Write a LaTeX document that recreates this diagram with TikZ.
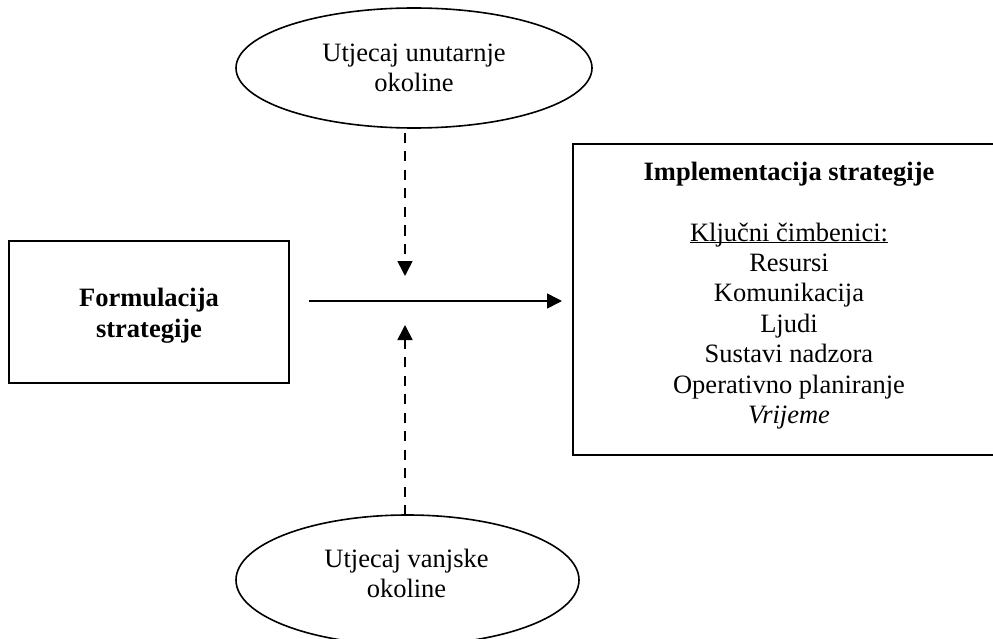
\documentclass[tikz,border=0pt]{standalone}
\usepackage{fontspec}
\setmainfont{Liberation Serif}
\usetikzlibrary{arrows.meta,shapes.geometric}
\begin{document}
\fontsize{26.5}{30.4}\selectfont
\begin{tikzpicture}[x=1pt,y=-1pt,line width=1.6pt,
  every node/.style={inner sep=0pt,outer sep=0pt},
  oval/.style={draw,ellipse,line width=1.6pt},
  box/.style={draw,rectangle,line width=1.6pt},
  txt/.style={align=center},
  flow/.style={-{Triangle[length=15pt,width=15pt]}},
  infl/.style={flow,dash pattern=on 10pt off 8.5pt}]
\useasboundingbox (0,0) rectangle (993,639);
\clip (0,0) rectangle (993,639);
\node[oval,minimum width=356pt,minimum height=120pt,align=center] (T) at (414,68) {Utjecaj unutarnje\\okoline};
\node[oval,minimum width=343pt,minimum height=130pt] (B) at (407.5,580) {};
\node[txt] (Btxt) at (406.5,573.5) {Utjecaj vanjske\\okoline};
\node[box,minimum width=280pt,minimum height=142pt] (L) at (149,312) {};
\node[txt,font=\bfseries] (Ltxt) at (149,315.6) {Formulacija\\strategije};
\node[box,minimum width=432pt,minimum height=311pt] (R) at (789,299.5) {};
\node[txt] (Rtxt) at (789,295.5) {\textbf{Implementacija strategije}\\[30.4pt]
  \underline{\smash{Ključni čimbenici:}}\\Resursi\\Komunikacija\\Ljudi\\Sustavi nadzora\\Operativno planiranje\\\textit{Vrijeme}};
\coordinate (cross) at (405,301);
\coordinate (dtip) at (405,276);
\coordinate (utip) at (405,325);
\draw[flow,shorten <=20pt,shorten >=11pt] (L.east |- cross) -- (R.west |- cross);
\draw[infl,shorten <=5pt] (T.south -| dtip) -- (dtip);
\draw[infl] (B.north -| utip) -- (utip);
\end{tikzpicture}
\end{document}
